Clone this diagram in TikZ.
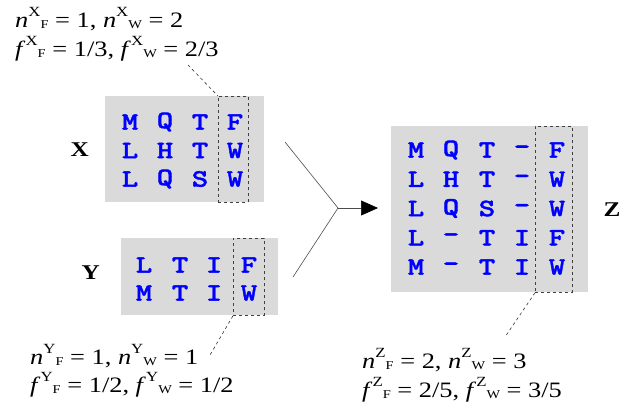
\documentclass[tikz,border=0pt]{standalone}
\usepackage{fontspec}
\setmainfont{Liberation Serif}[FakeStretch=1.2]
\newfontfamily\resfont{lmmonolt10-bold.otf}[FakeBold=1.5, FakeStretch=1.25]
\usetikzlibrary{positioning,arrows.meta,calc}
\definecolor{resblue}{RGB}{0,0,255}
\definecolor{alngray}{RGB}{218,218,218}
\newcommand{\cnt}[3]{\textit{#1}\raisebox{11pt}{\fontsize{14}{14}\selectfont #2}\raisebox{-1pt}{\fontsize{12}{12}\selectfont #3}}
\newcommand{\eq}{\ =\ }

\begin{document}
\begin{tikzpicture}[x=1pt, y=-1pt, >=Triangle,
  alnbox/.style={fill=alngray, inner sep=0pt, anchor=north west},
  colbox/.style={draw=black!75, dashed, line width=0.8pt, inner sep=0pt, anchor=north west},
  res/.style={text=resblue, font=\fontsize{25}{25}\selectfont\resfont, inner sep=0pt},
  setname/.style={font=\fontsize{21}{21}\selectfont\bfseries, inner sep=0pt},
  stats/.style={font=\fontsize{22}{22}\selectfont, anchor=base west, inner sep=0pt},
  leader/.style={black!80, dashed, line width=0.6pt},
  merge/.style={black!70, line width=0.6pt}]
\useasboundingbox (0,0) rectangle (627,404);

% alignment X
\node[alnbox, minimum width=159pt, minimum height=106pt] (xbox) at (105,96) {};
\foreach \a/\b/\c/\d [count=\i] in {M/Q/T/F, L/H/T/W, L/Q/S/W} {
  \node[res] at (130,93.5+28.5*\i) {\a};
  \node[res] at (165,93.5+28.5*\i) {\b};
  \node[res] at (200,93.5+28.5*\i) {\c};
  \node[res] at (235,93.5+28.5*\i) {\d};
}
\node[colbox, minimum width=30pt, minimum height=106pt] (xcol) at (218,96) {};
\node[setname, left=16pt of xbox.west] (xname) {X};

% alignment Y
\node[alnbox, minimum width=157pt, minimum height=77pt] (ybox) at (121,238) {};
\foreach \a/\b/\c/\d [count=\i] in {L/T/I/F, M/T/I/W} {
  \node[res] at (144,237+28*\i) {\a};
  \node[res] at (180,237+28*\i) {\b};
  \node[res] at (214,237+28*\i) {\c};
  \node[res] at (249,237+28*\i) {\d};
}
\node[colbox, minimum width=31pt, minimum height=77pt] (ycol) at (233,238) {};
\node[setname, left=21pt of ybox.west, yshift=4pt] (yname) {Y};

% merged alignment Z
\node[alnbox, minimum width=197pt, minimum height=166pt] (zbox) at (391,126) {};
\foreach \a/\b/\c/\d/\e [count=\i] in {M/Q/T/-/F, L/H/T/-/W, L/Q/S/-/W, L/-/T/I/F, M/-/T/I/W} {
  \node[res] at (416,120.75+29.25*\i) {\a};
  \node[res] at (451,120.75+29.25*\i) {\b};
  \node[res] at (487,120.75+29.25*\i) {\c};
  \node[res] at (522,120.75+29.25*\i) {\d};
  \node[res] at (557,120.75+29.25*\i) {\e};
}
\node[colbox, minimum width=37pt, minimum height=166pt] (zcol) at (535,126) {};
\node[setname, right=15pt of zbox.east] (zname) {Z};

% counts and frequencies
\node[stats] (xcount) at (15,28) {\cnt{n}{X}{F}\eq 1, \cnt{n}{X}{W}\eq 2};
\node[stats] (xfreq) at (15,57) {\cnt{f}{X}{F}\eq 1/3, \cnt{f}{X}{W}\eq 2/3};
\node[stats] (ycount) at (30,364) {\cnt{n}{Y}{F}\eq 1, \cnt{n}{Y}{W}\eq 1};
\node[stats] (yfreq) at (30,392) {\cnt{f}{Y}{F}\eq 1/2, \cnt{f}{Y}{W}\eq 1/2};
\node[stats] (zcount) at (362,368) {\cnt{n}{Z}{F}\eq 2, \cnt{n}{Z}{W}\eq 3};
\node[stats] (zfreq) at (362,397) {\cnt{f}{Z}{F}\eq 2/5, \cnt{f}{Z}{W}\eq 3/5};

\coordinate (xlead) at (188,65);
\coordinate (ylead) at (210,355);
\coordinate (zlead) at (505,337);
\draw[leader] (xlead) -- (xcol.north west);
\draw[leader] (ycol.south west) -- (ylead);
\draw[leader] (zcol.south west) -- (zlead);

% merge arrow
\coordinate (xin) at (285,142);
\coordinate (yin) at (293,277);
\coordinate (join) at (338,208);
\draw[merge] (xin) -- (join) -- (yin);
\draw[merge, -{Triangle[length=17pt, width=15pt, black]}, shorten >=13pt] (join) -- (zbox.west |- join);

\end{tikzpicture}
\end{document}
